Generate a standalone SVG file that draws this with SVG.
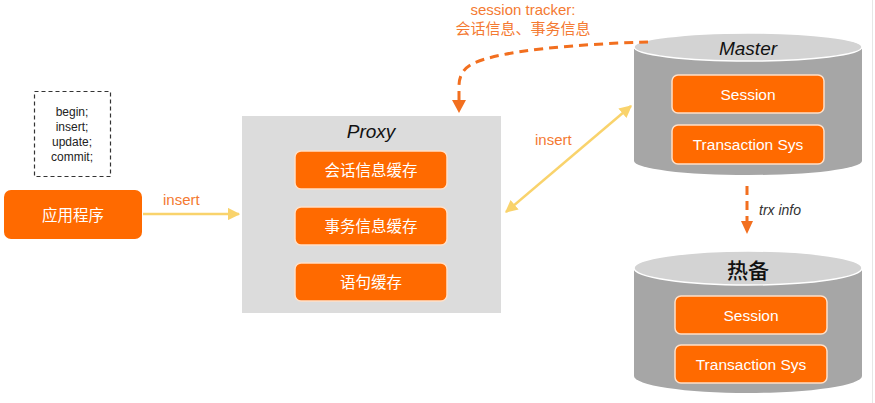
<svg xmlns="http://www.w3.org/2000/svg" width="875" height="403" viewBox="0 0 875 403">
<defs>
<style>
.box{fill:#FF6A00;stroke:#FFE0C8;stroke-width:1.5}
.btxt{fill:#FFFFFF;font-family:"Liberation Sans","Noto Sans CJK SC",sans-serif;font-size:15.5px;text-anchor:middle}
.cjk{font-family:"Noto Sans CJK SC",sans-serif}
.lbl{fill:#F47A32;font-family:"Liberation Sans","Noto Sans CJK SC",sans-serif;font-size:15px}
.yel{stroke:#F9D36C;stroke-width:2.5;fill:none}
.dash{stroke:#F26F1F;stroke-width:3;fill:none;stroke-dasharray:9 6}
.cylbody{fill:#A6A6A6}
.cyltop{fill:#D3D3D3;stroke:#FFFFFF;stroke-width:1.5}
.title{fill:#111;font-family:"Liberation Sans",sans-serif;font-size:19px;font-style:italic;text-anchor:middle}
</style>
<marker id="ya" viewBox="0 0 10 10" refX="9" refY="5" markerWidth="5" markerHeight="5" orient="auto-start-reverse" markerUnits="strokeWidth">
<path d="M0,0 L10,5 L0,10 z" fill="#F9D36C"/>
</marker>
</defs>
<rect width="875" height="403" fill="#FFFFFF"/>
<line x1="872.5" y1="0" x2="872.5" y2="403" stroke="#E6E6E6" stroke-width="1"/>

<g id="sql">
<rect x="34.5" y="91.5" width="76" height="85" fill="none" stroke="#333" stroke-width="1.2" stroke-dasharray="4 3"/>
<g font-family="Liberation Sans,sans-serif" font-size="12" fill="#222" text-anchor="middle">
<text x="72" y="116">begin;</text>
<text x="72" y="131">insert;</text>
<text x="72" y="146">update;</text>
<text x="72" y="161">commit;</text>
</g>
</g>

<g id="app">
<rect x="4" y="190" width="138" height="49" rx="7" fill="#FF6A00"/>
<text x="73" y="221" class="btxt cjk" font-size="16">应用程序</text>
</g>

<g id="proxy">
<rect x="242" y="116" width="259" height="197" fill="#DCDCDC"/>
<text x="371" y="138" class="title">Proxy</text>
<rect x="295" y="151" width="152" height="38" rx="6" class="box"/>
<text x="371" y="176" class="btxt cjk">会话信息缓存</text>
<rect x="295" y="207" width="152" height="38" rx="6" class="box"/>
<text x="371" y="232" class="btxt cjk">事务信息缓存</text>
<rect x="295" y="263" width="152" height="38" rx="6" class="box"/>
<text x="371" y="288" class="btxt cjk">语句缓存</text>
</g>

<g id="master">
<path d="M634,47 L634,161 A114,14 0 0 0 862,161 L862,47 Z" class="cylbody"/>
<ellipse cx="748" cy="47" rx="114" ry="14" class="cyltop"/>
<text x="748" y="55" class="title">Master</text>
<rect x="672" y="75" width="152" height="38" rx="6" class="box"/>
<text x="748" y="100" class="btxt">Session</text>
<rect x="672" y="125" width="152" height="39" rx="6" class="box"/>
<text x="748" y="150" class="btxt">Transaction Sys</text>
</g>

<g id="standby">
<path d="M634,268 L634,376 A114,17 0 0 0 862,376 L862,268 Z" class="cylbody"/>
<ellipse cx="748" cy="268" rx="114" ry="17" class="cyltop"/>
<text x="748" y="278" fill="#111" font-family="Noto Sans CJK SC,sans-serif" font-size="21" font-weight="500" text-anchor="middle">热备</text>
<rect x="675" y="296" width="152" height="38" rx="6" class="box"/>
<text x="751" y="321" class="btxt">Session</text>
<rect x="675" y="345" width="152" height="38" rx="6" class="box"/>
<text x="751" y="370" class="btxt">Transaction Sys</text>
</g>

<g id="connectors">
<line x1="143" y1="214" x2="239" y2="214" class="yel" marker-end="url(#ya)"/>
<text x="163" y="205" class="lbl">insert</text>
<line x1="506" y1="212" x2="631" y2="106" class="yel" marker-start="url(#ya)" marker-end="url(#ya)"/>
<text x="535" y="145" class="lbl">insert</text>
<path d="M648,42 C580,44 500,50 472,64 Q459,71 459,86 L459,100" class="dash"/>
<polygon points="452,100 466,100 459,113" fill="#F26F1F"/>
<text x="523" y="15" class="lbl" text-anchor="middle" font-size="14">session tracker:</text>
<text x="523" y="34" class="lbl cjk" text-anchor="middle" font-size="15">会话信息、事务信息</text>
<line x1="747" y1="186" x2="747" y2="221" class="dash" stroke-width="2.5" stroke-dasharray="8 7"/>
<polygon points="741,221 753,221 747,234" fill="#F26F1F"/>
<text x="759" y="215" fill="#333" font-family="Liberation Sans,sans-serif" font-size="14" font-style="italic">trx info</text>
</g>
</svg>
